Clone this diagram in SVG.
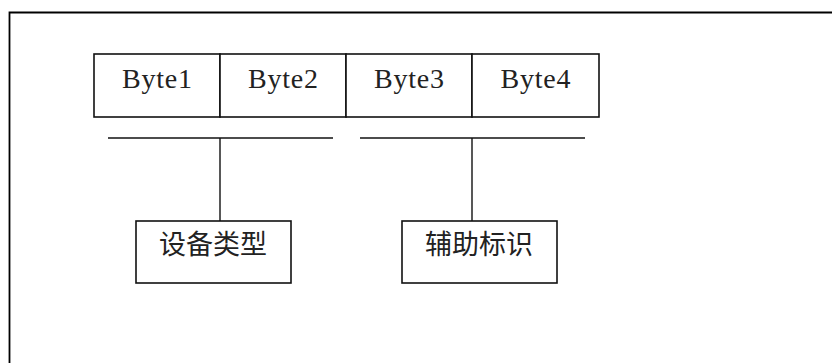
<svg xmlns="http://www.w3.org/2000/svg" width="832" height="363" viewBox="0 0 832 363">
  <style>
    .box { fill: #ffffff; stroke: #111111; stroke-width: 1.6; }
    .line { stroke: #111111; stroke-width: 1.4; fill: none; }
    .mono { font-family: "Liberation Serif", "DejaVu Serif", serif; font-size: 28px; fill: #222222; text-anchor: middle; }
    .cjk { font-family: "Noto Sans CJK SC", "Noto Sans", sans-serif; font-size: 27px; fill: #222222; text-anchor: middle; }
  </style>
  <rect width="832" height="363" fill="#ffffff"/>
  <g id="frame">
    <path d="M9.5 370 V12.5 H840" fill="none" stroke="#000000" stroke-width="1.8"/>
  </g>
  <g id="byte1">
    <rect class="box" x="94" y="54" width="126" height="63"/>
    <text class="mono" x="157" y="88" textLength="70" lengthAdjust="spacing">Byte1</text>
  </g>
  <g id="byte2">
    <rect class="box" x="220" y="54" width="126" height="63"/>
    <text class="mono" x="283" y="88" textLength="70" lengthAdjust="spacing">Byte2</text>
  </g>
  <g id="byte3">
    <rect class="box" x="346" y="54" width="126" height="63"/>
    <text class="mono" x="409" y="88" textLength="70" lengthAdjust="spacing">Byte3</text>
  </g>
  <g id="byte4">
    <rect class="box" x="472" y="54" width="127" height="63"/>
    <text class="mono" x="535.5" y="88" textLength="70" lengthAdjust="spacing">Byte4</text>
  </g>
  <g id="connectors">
    <line class="line" x1="108" y1="138" x2="333" y2="138"/>
    <line class="line" x1="360" y1="138" x2="585" y2="138"/>
    <line class="line" x1="220" y1="138" x2="220" y2="221"/>
    <line class="line" x1="472" y1="138" x2="472" y2="221"/>
  </g>
  <g id="device-type">
    <rect class="box" x="136" y="221" width="155" height="62"/>
    <text class="cjk" x="213" y="254">设备类型</text>
  </g>
  <g id="aux-id">
    <rect class="box" x="402" y="221" width="155" height="62"/>
    <text class="cjk" x="479" y="254">辅助标识</text>
  </g>
</svg>
